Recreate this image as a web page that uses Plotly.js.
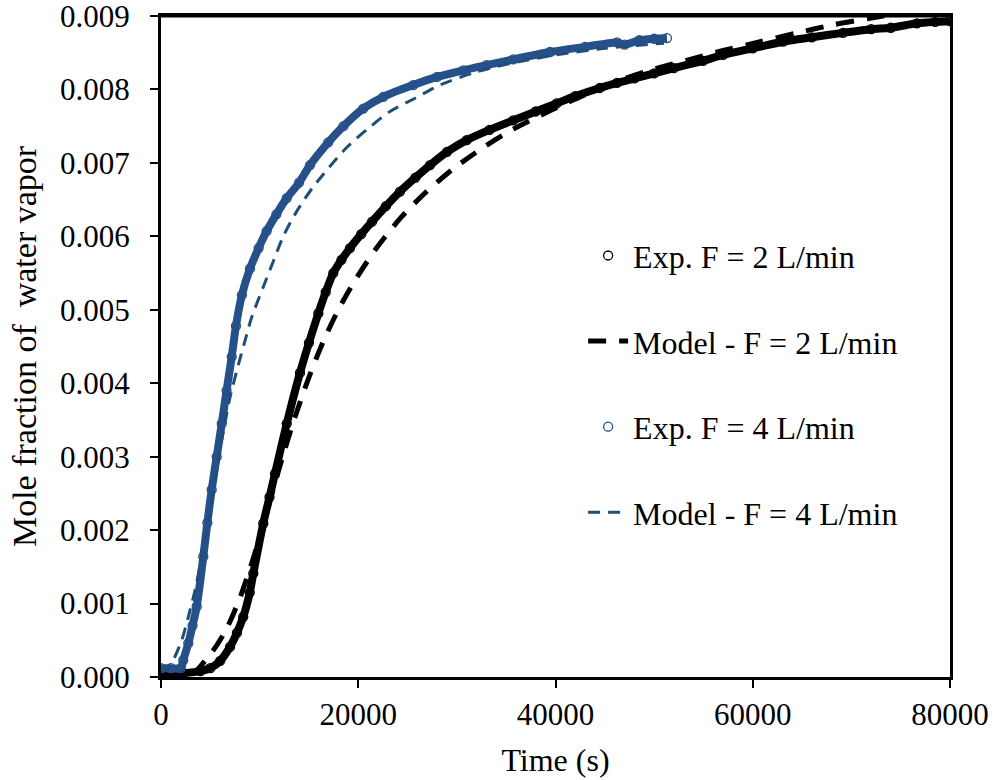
<!DOCTYPE html>
<html>
<head>
<meta charset="utf-8">
<script src="https://cdn.plot.ly/plotly-3.0.1.min.js"></script>
<style>html,body{margin:0;padding:0;background:#fff;}#chart{width:994px;height:780px;}</style>
</head>
<body>
<div id="chart"></div>
<script>
// Exp. F = 2 L/min
const exp2T = [0,2000,4000,5000,6000,7000,7700,8340,9000,9360,10370,11000,11560,12750,14090,15000,15950,16700,17470,18300,19160,20300,21400,22800,24230,25800,27280,29000,31000,33300,35720,38000,40120,42000,44500,46240,48000,50000,52000,54960,57000,60000,63070,66000,69150,72000,74000,76650,78500,80000];
const exp2Y = [0.00005,0.00005,0.00008,0.00012,0.00022,0.00041,0.0006,0.00082,0.00115,0.00141,0.00209,0.00245,0.00277,0.00345,0.00414,0.00455,0.00495,0.00524,0.0055,0.00568,0.00584,0.00603,0.0062,0.00641,0.00661,0.0068,0.00697,0.00715,0.00731,0.00745,0.00758,0.0077,0.00781,0.00791,0.00802,0.00809,0.00815,0.00822,0.00829,0.00839,0.00847,0.00856,0.00865,0.00871,0.00877,0.00882,0.00884,0.0089,0.00892,0.00893];
// Model - F = 2 L/min
const mod2T = [0,2000,3500,4630,5600,6660,8010,9200,10370,11220,12400,13590,14940,16460,17980,19670,21800,24230,26770,29640,32680,35720,39440,43000,46240,49580,53650,57000,60430,64500,68150,71900,76000,80000];
const mod2Y = [0,0.00001,0.00008,0.00025,0.00042,0.00066,0.00108,0.00155,0.00207,0.00248,0.00303,0.00354,0.00406,0.00457,0.005,0.0054,0.00583,0.00624,0.00659,0.00692,0.00721,0.00746,0.00771,0.00793,0.00811,0.00826,0.00841,0.00853,0.00864,0.00877,0.00888,0.00897,0.00906,0.00913];
// Exp. F = 4 L/min
const exp4T = [0,1000,2000,2260,2770,3200,3620,4290,4700,5140,5650,6160,6650,7170,7600,8200,9020,9900,10710,11700,12750,14000,15110,16960,18500,20510,22540,25580,28000,30650,33000,35720,39440,43000,46240,47000,48500,50000,51300];
const exp4Y = [0.00012,0.00012,0.00012,0.00023,0.00046,0.0007,0.00096,0.00164,0.0021,0.00255,0.003,0.00345,0.0039,0.00436,0.00478,0.0052,0.00556,0.00584,0.00607,0.0063,0.00652,0.00673,0.00697,0.00728,0.0075,0.00774,0.0079,0.00806,0.00817,0.00826,0.00833,0.00841,0.00851,0.00858,0.00864,0.00861,0.00867,0.00869,0.0087];
// Model - F = 4 L/min
const mod4T = [0,500,1080,2100,2770,3450,4130,5140,5810,6490,7000,7840,8520,9200,10370,11390,12400,13760,15360,17050,18900,21020,23220,25760,28290,32000,36000,40000,45000,51000];
const mod4Y = [0.00008,0.0001,0.00019,0.0005,0.00082,0.00118,0.00164,0.00241,0.00298,0.00346,0.00381,0.00425,0.00458,0.0049,0.00531,0.00566,0.006,0.00634,0.00666,0.00694,0.00722,0.00747,0.0077,0.00788,0.00806,0.00824,0.00837,0.00847,0.00856,0.00863];

const xTicks = [0,20000,40000,60000,80000];
const yTicks = [0,0.001,0.002,0.003,0.004,0.005,0.006,0.007,0.008,0.009];

const BLACK = '#000000';
const BLUE = '#25508a';
const FONT = 'Liberation Serif, Times New Roman, serif';

const traces = [
  {x: exp2T, y: exp2Y, mode: 'lines', line: {color: BLACK, width: 8, shape: 'spline', smoothing: 0.8}, showlegend: false, hoverinfo: 'skip', legendgroup: 'a'},
  {x: exp2T, y: exp2Y, mode: 'markers', name: 'Exp. F = 2 L/min', legendgroup: 'a',
   marker: {symbol: 'circle-open', size: 9, color: BLACK, line: {width: 1.3, color: BLACK}}},
  {x: mod2T, y: mod2Y, mode: 'lines', name: 'Model - F = 2 L/min', legendgroup: 'b',
   line: {color: BLACK, width: 5, dash: '18px,13px', shape: 'spline', smoothing: 0.8}},
  {x: exp4T, y: exp4Y, mode: 'lines', line: {color: BLUE, width: 8, shape: 'spline', smoothing: 0.8}, showlegend: false, hoverinfo: 'skip', legendgroup: 'c'},
  {x: exp4T, y: exp4Y, mode: 'markers', name: 'Exp. F = 4 L/min', legendgroup: 'c',
   marker: {symbol: 'circle-open', size: 9, color: BLUE, line: {width: 1.3, color: BLUE}}},
  {x: mod4T, y: mod4Y, mode: 'lines', name: 'Model - F = 4 L/min', legendgroup: 'd',
   line: {color: '#1f4e79', width: 3, dash: '12px,8px', shape: 'spline', smoothing: 0.8}}
];

const layout = {
  width: 994, height: 780,
  margin: {l: 161, r: 44, t: 16, b: 103},
  paper_bgcolor: '#fff', plot_bgcolor: '#fff',
  font: {family: FONT, size: 31, color: '#000'},
  showlegend: true,
  legend: {x: 0.535, y: 0.679, xanchor: 'left', yanchor: 'top', bgcolor: 'rgba(0,0,0,0)',
           font: {family: FONT, size: 32, color: '#000'}, tracegroupgap: 41, itemwidth: 40},
  xaxis: {
    range: [0, 80000], tickvals: xTicks, ticktext: xTicks.map(String),
    showgrid: false, zeroline: false, showline: true, linecolor: '#000', linewidth: 3, mirror: true,
    ticks: 'outside', ticklen: 8, tickwidth: 2, tickcolor: '#000', ticklabeloverflow: 'allow',
    tickfont: {family: FONT, size: 31, color: '#000'},
    title: {text: 'Time (s)', font: {family: FONT, size: 32, color: '#000'}, standoff: 18}
  },
  yaxis: {
    range: [0, 0.009], tickvals: yTicks, ticktext: yTicks.map(v => v.toFixed(3)),
    showgrid: false, zeroline: false, showline: true, linecolor: '#000', linewidth: 3, mirror: true,
    ticks: 'outside', ticklen: 8, tickwidth: 2, tickcolor: '#000', ticklabelstandoff: 14, ticklabeloverflow: 'allow',
    tickfont: {family: FONT, size: 31, color: '#000'},
    title: {text: 'Mole fraction of  water vapor', font: {family: FONT, size: 34, color: '#000'}, standoff: 14}
  },
  shapes: [
    {type: 'line', xref: 'paper', yref: 'paper', x0: 0, x1: 1, y0: 1, y1: 1, line: {color: '#000', width: 3}, layer: 'above'}
  ]
};

Plotly.newPlot('chart', traces, layout, {displayModeBar: false, staticPlot: true});
</script>
</body>
</html>
